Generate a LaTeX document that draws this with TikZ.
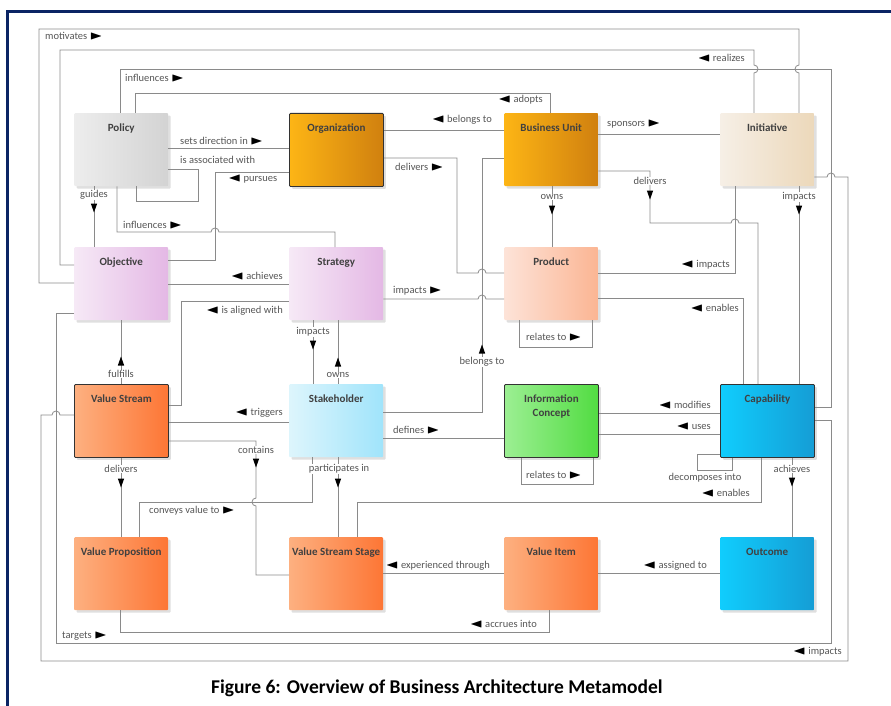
\documentclass[tikz,border=0pt]{standalone}
\usepackage{fontspec}
\setmainfont{Carlito}
\usepackage{amssymb}
\usepackage{graphicx}
\usetikzlibrary{shadows}

\definecolor{navy}{HTML}{0B2464}
\definecolor{linegray}{HTML}{8A8A8A}
\definecolor{labelgray}{HTML}{555555}
\definecolor{policyL}{HTML}{EDEDED}
\definecolor{policyR}{HTML}{D3D3D3}
\definecolor{orgL}{HTML}{FDB515}
\definecolor{orgR}{HTML}{D0800F}
\definecolor{initL}{HTML}{F6EFE6}
\definecolor{initR}{HTML}{ECD8BA}
\definecolor{stratL}{HTML}{F6E9F6}
\definecolor{stratR}{HTML}{E4B8E5}
\definecolor{prodL}{HTML}{FDE3D8}
\definecolor{prodR}{HTML}{FBB593}
\definecolor{valueL}{HTML}{FDB080}
\definecolor{valueR}{HTML}{FD7635}
\definecolor{stakeL}{HTML}{DDF5FC}
\definecolor{stakeR}{HTML}{A0E4FB}
\definecolor{infoL}{HTML}{9CEF93}
\definecolor{infoR}{HTML}{52DC42}
\definecolor{capL}{HTML}{10CDFD}
\definecolor{capR}{HTML}{159DD5}

\newcommand{\rtri}{\textcolor{black}{\scalebox{1.6}[1.15]{$\blacktriangleright$}}}
\newcommand{\ltri}{\textcolor{black}{\scalebox{1.6}[1.15]{$\blacktriangleleft$}}}

\begin{document}
\begin{tikzpicture}[x=1pt, y=-1pt,
    box/.style={anchor=north west, minimum width=94pt, minimum height=73pt,
      inner xsep=2pt, inner ysep=4pt, text height=14pt, text depth=51pt,
      align=center, font=\fontsize{11}{14}\selectfont\bfseries, text=black!75,
      rounded corners=1pt,
      drop shadow={shadow xshift=2.5pt, shadow yshift=-2.5pt, opacity=0.25}},
    twoline/.style={text height=28pt, text depth=37pt},
    grad/.style 2 args={left color=#1, right color=#2},
    dark/.style={draw=black!80, line width=0.9pt},
    conn/.style={draw=linegray, line width=0.8pt},
    lbl/.style={font=\fontsize{10.5}{12}\selectfont, text=labelgray, inner sep=1pt},
    vlbl/.style={lbl, fill=white, inner sep=0.5pt},
    dtri/.pic={\fill (-3.2,-4.5) -- (3.2,-4.5) -- (0,4.5) -- cycle;},
    utri/.pic={\fill (-3.2,4.5) -- (3.2,4.5) -- (0,-4.5) -- cycle;}]
  \useasboundingbox (0,0) rectangle (891,706);

  % frame
  \draw[navy, line width=3pt] (7,706) -- (7,12) -- (891,12);

  % boxes
  \node[box, grad={policyL}{policyR}] (policy) at (74,113) {Policy};
  \node[box, dark, grad={orgL}{orgR}] (organization) at (289,113) {Organization};
  \node[box, grad={orgL}{orgR}] (businessunit) at (504,113) {Business Unit};
  \node[box, grad={initL}{initR}] (initiative) at (720,113) {Initiative};
  \node[box, grad={stratL}{stratR}] (objective) at (74,247) {Objective};
  \node[box, grad={stratL}{stratR}] (strategy) at (289,247) {Strategy};
  \node[box, grad={prodL}{prodR}] (product) at (504,247) {Product};
  \node[box, dark, grad={valueL}{valueR}] (valuestream) at (74,384) {Value Stream};
  \node[box, grad={stakeL}{stakeR}] (stakeholder) at (289,384) {Stakeholder};
  \node[box, twoline, dark, grad={infoL}{infoR}] (infoconcept) at (504,384) {Information\\Concept};
  \node[box, dark, grad={capL}{capR}] (capability) at (720,384) {Capability};
  \node[box, grad={valueL}{valueR}] (valueprop) at (74,537) {Value Proposition};
  \node[box, grad={valueL}{valueR}] (vss) at (289,537) {Value Stream Stage};
  \node[box, grad={valueL}{valueR}] (valueitem) at (504,537) {Value Item};
  \node[box, grad={capL}{capR}] (outcome) at (720,537) {Outcome};

  % outer connectors
  \draw[conn] (objective.west |- 0,283) -- (39,283) -- (39,29) -- (799,29) -- (799,65)
    arc[start angle=270, end angle=90, radius=4] -- (799,0 |- initiative.north);
  \draw[conn] (objective.west |- 0,265) -- (60,265) -- (60,50) -- (754,50) -- (754,65)
    arc[start angle=-90, end angle=90, radius=4] -- (754,0 |- initiative.north);
  \draw[conn] (policy.north -| 120,0) -- (120,69) -- (831,69) -- (831,407) -- (capability.east |- 0,407);
  \draw[conn] (policy.north -| 135,0) -- (135,93) -- (550,93) -- (550,0 |- businessunit.north);
  \draw[conn] (initiative.east |- 0,177) -- (827,177) arc[start angle=180, end angle=360, radius=4]
    -- (848,177) -- (848,661) -- (41,661) -- (41,415) -- (52,415)
    arc[start angle=180, end angle=360, radius=4] -- (valuestream.west |- 0,415);
  \draw[conn] (objective.west |- 0,313) -- (56,313) -- (56,643) -- (831,643) -- (831,420) -- (capability.east |- 0,420);

  % top row
  \draw[conn] (organization.east |- 0,130) -- (businessunit.west |- 0,130);
  \draw[conn] (businessunit.east |- 0,134) -- (initiative.west |- 0,134);
  \draw[conn] (policy.east |- 0,148) -- (organization.west |- 0,148);
  \draw[conn] (policy.east |- 0,169) -- (198,169) -- (198,201) -- (136,201) -- (136,0 |- policy.south);
  \draw[conn] (organization.west |- 0,172) -- (215,172) -- (215,260) -- (objective.east |- 0,260);
  \draw[conn] (organization.east |- 0,158) -- (457,158) -- (457,273) -- (478,273)
    arc[start angle=180, end angle=360, radius=4] -- (product.west |- 0,273);
  \draw[conn] (businessunit.west |- 0,158) -- (482,158) -- (482,412) -- (stakeholder.east |- 0,412);
  \draw[conn] (businessunit.south -| 552,0) -- (product.north -| 552,0);
  \draw[conn] (businessunit.east |- 0,171) -- (650,171) -- (650,223) -- (731,223)
    arc[start angle=180, end angle=360, radius=4] -- (758,223) -- (capability.north -| 758,0);
  \draw[conn] (initiative.south -| 735,0) -- (735,273) -- (product.east |- 0,273);
  \draw[conn] (initiative.south -| 799,0) -- (capability.north -| 799,0);
  \draw[conn] (policy.south -| 94,0) -- (objective.north -| 94,0);
  \draw[conn] (policy.south -| 117,0) -- (117,232) -- (211,232)
    arc[start angle=180, end angle=360, radius=4] -- (335,232) -- (strategy.north -| 335,0);

  % middle rows
  \draw[conn] (objective.east |- 0,284) -- (strategy.west |- 0,284);
  \draw[conn] (strategy.west |- 0,301) -- (181,301) -- (181,405) -- (valuestream.east |- 0,405);
  \draw[conn] (strategy.east |- 0,299) -- (478,299)
    arc[start angle=180, end angle=360, radius=4] -- (product.west |- 0,299);
  \draw[conn] (strategy.south -| 313,0) -- (stakeholder.north -| 313,0);
  \draw[conn] (strategy.south -| 338,0) -- (stakeholder.north -| 338,0);
  \draw[conn] (objective.south -| 121,0) -- (valuestream.north -| 121,0);
  \draw[conn] (product.east |- 0,298) -- (743,298) -- (capability.north -| 743,0);
  \draw[conn] (product.south -| 519,0) -- (519,347) -- (592,347) -- (product.south -| 592,0);
  \draw[conn] (stakeholder.west |- 0,422) -- (valuestream.east |- 0,422);
  \draw[conn] (valuestream.east |- 0,441) -- (256,441) -- (256,498)
    arc[start angle=270, end angle=90, radius=4] -- (256,575) -- (vss.west |- 0,575);
  \draw[conn] (stakeholder.south -| 312,0) -- (312,502) -- (139,502) -- (valueprop.north -| 139,0);
  \draw[conn] (stakeholder.south -| 338,0) -- (vss.north -| 338,0);
  \draw[conn] (valuestream.south -| 121,0) -- (valueprop.north -| 121,0);
  \draw[conn] (stakeholder.east |- 0,438) -- (infoconcept.west |- 0,438);
  \draw[conn] (infoconcept.south -| 521,0) -- (521,484) -- (593,484) -- (infoconcept.south -| 593,0);
  \draw[conn] (capability.west |- 0,413) -- (infoconcept.east |- 0,413);
  \draw[conn] (capability.west |- 0,434) -- (infoconcept.east |- 0,434);
  \draw[conn] (capability.west |- 0,454) -- (697,454) -- (697,470) -- (732,470) -- (capability.south -| 732,0);
  \draw[conn] (capability.south -| 761,0) -- (761,502) -- (357,502) -- (vss.north -| 357,0);
  \draw[conn] (outcome.north -| 792,0) -- (capability.south -| 792,0);

  % bottom row
  \draw[conn] (valueitem.west |- 0,573) -- (vss.east |- 0,573);
  \draw[conn] (outcome.west |- 0,573) -- (valueitem.east |- 0,573);
  \draw[conn] (valueitem.south -| 549,0) -- (549,632) -- (120,632) -- (valueprop.south -| 120,0);

  % horizontal labels
  \node[lbl, anchor=west] (tmotivates) at (44,36) {motivates~\rtri};
  \node[lbl, anchor=east] (trealizes) at (746,58) {\ltri~realizes};
  \node[lbl, anchor=west] (tinfluencestop) at (124,78) {influences~\rtri};
  \node[lbl, anchor=east] (tadopts) at (544,100) {\ltri~adopts};
  \node[lbl, anchor=east] (tbelongs) at (493,120) {\ltri~belongs to};
  \node[lbl, anchor=west] (tsponsors) at (606,124) {sponsors~\rtri};
  \node[lbl, anchor=west] (tsets) at (179,141) {sets direction in~\rtri};
  \node[lbl, anchor=west] (tassociated) at (179,160) {is associated with};
  \node[lbl, anchor=west] (tpursues) at (227,179) {\ltri~pursues};
  \node[lbl, anchor=west] (tdeliversorg) at (394,167) {delivers~\rtri};
  \node[lbl, anchor=east] (timpactsprod) at (731,265) {\ltri~impacts};
  \node[lbl, anchor=east] (timpactsvs) at (843,652) {\ltri~impacts};
  \node[lbl, anchor=west] (tinfluenceslow) at (122,225) {influences~\rtri};
  \node[lbl, anchor=east] (tachieves) at (284,276) {\ltri~achieves};
  \node[lbl, anchor=east] (taligned) at (284,311) {\ltri~is aligned with};
  \node[lbl, anchor=west] (timpactsstrat) at (392,291) {impacts~\rtri};
  \node[lbl, anchor=east] (tenablesprod) at (740,308) {\ltri~enables};
  \node[lbl, anchor=west] (trelatesprod) at (525,337) {relates to~\rtri};
  \node[lbl, anchor=east] (ttriggers) at (284,413) {\ltri~triggers};
  \node[lbl, anchor=west] (tconveys) at (148,511) {conveys value to~\rtri};
  \node[lbl, anchor=west] (tdefines) at (392,430) {defines~\rtri};
  \node[lbl, anchor=west] (trelatesinfo) at (525,475) {relates to~\rtri};
  \node[lbl, anchor=east] (tmodifies) at (712,405) {\ltri~modifies};
  \node[lbl, anchor=east] (tuses) at (712,426) {\ltri~uses};
  \node[lbl] (tdecomposes) at (705,478) {decomposes into};
  \node[lbl, anchor=east] (tenablesvss) at (751,493) {\ltri~enables};
  \node[lbl, anchor=east] (texperienced) at (491,566) {\ltri~experienced through};
  \node[lbl, anchor=east] (tassigned) at (708,566) {\ltri~assigned to};
  \node[lbl, anchor=east] (taccrues) at (538,624) {\ltri~accrues into};
  \node[lbl, anchor=west] (ttargets) at (61,636) {targets~\rtri};

  % vertical labels with their direction marks
  \node[vlbl] (tguides) at (94,195) {guides};
  \pic at (94,208) {dtri};
  \node[vlbl] (townsbu) at (552,197) {owns};
  \pic at (552,210) {dtri};
  \node[vlbl] (tdeliversbu) at (650,181) {delivers};
  \pic at (650,195) {dtri};
  \node[vlbl] (timpactscap) at (799,197) {impacts};
  \pic at (799,210) {dtri};
  \node[vlbl] (tbelongsvert) at (482,362) {belongs to};
  \pic at (482,349) {utri};
  \node[vlbl] (timpactsstake) at (313,332) {impacts};
  \pic at (313,345) {dtri};
  \node[vlbl] (townsstake) at (338,375) {owns};
  \pic at (338,362) {utri};
  \node[vlbl] (tfulfills) at (121,374) {fulfills};
  \pic at (121,361) {utri};
  \node[vlbl] (tcontains) at (256,450) {contains};
  \pic at (256,463) {dtri};
  \node[vlbl] (tparticipates) at (339,469) {participates in};
  \pic at (338,483) {dtri};
  \node[vlbl] (tdeliversvs) at (121,469) {delivers};
  \pic at (121,483) {dtri};
  \node[vlbl] (tachievesout) at (792,469) {achieves};
  \pic at (792,482) {dtri};

  % caption
  \node[font=\fontsize{19.5}{22}\selectfont\bfseries] (caption) at (437,688)
    {Figure 6: Overview of Business Architecture Metamodel};
\end{tikzpicture}
\end{document}
